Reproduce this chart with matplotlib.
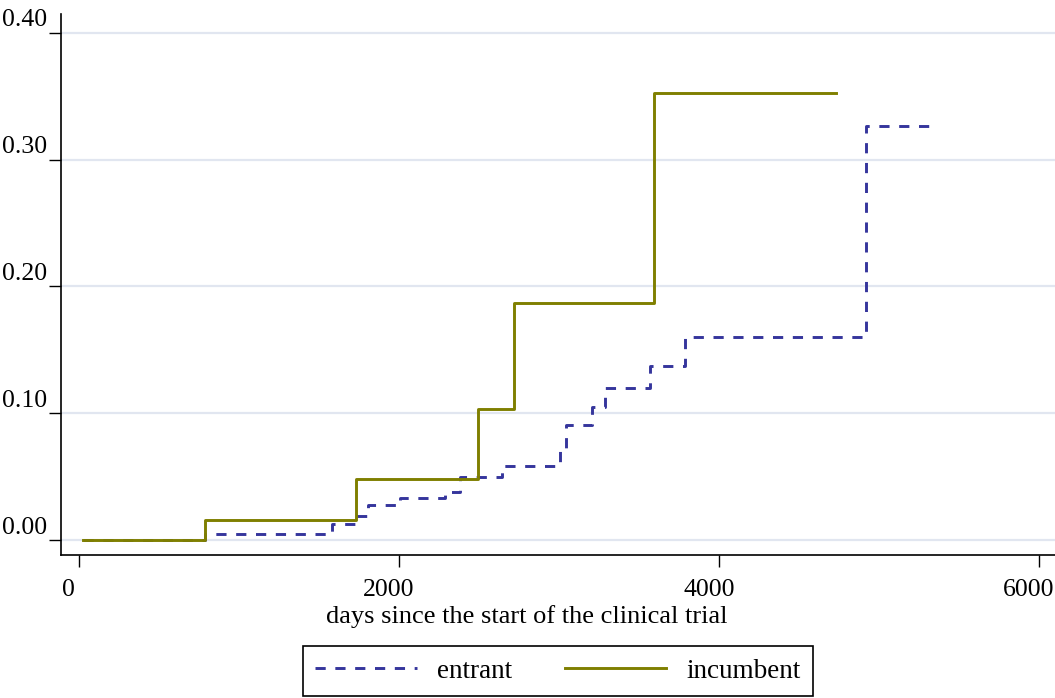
import matplotlib
matplotlib.use("Agg")
import matplotlib.pyplot as plt
import matplotlib.transforms as mtransforms

# cumulative incidence
inc_days = [25, 787, 1731, 2497, 2719, 3597, 4731]
inc_vals = [0, 0.016, 0.048, 0.103, 0.187, 0.353, 0.353]

ent_days = [25, 787, 1581, 1725, 1806, 2006, 2290, 2381, 2642, 3008, 3047,
            3204, 3287, 3569, 3787, 4917, 5339]
ent_vals = [0, 0.0047, 0.0124, 0.019, 0.0276, 0.0329, 0.038, 0.050, 0.0584,
            0.072, 0.0907, 0.105, 0.1196, 0.137, 0.160, 0.327, 0.327]

xticks = [0, 2000, 4000, 6000]
yticks = [0.0, 0.1, 0.2, 0.3, 0.4]
ytick_labels = ["0.00", "0.10", "0.20", "0.30", "0.40"]

plt.rcParams['font.family'] = ['Liberation Serif', 'DejaVu Serif']
fs = 18.5

fig = plt.figure(figsize=(10.55, 6.98), dpi=100)
ax = fig.add_axes([0.0578, 0.2049, 0.9422, 0.7751])

ent_color = '#35359c'
inc_color = '#7f7f00'

ax.step(ent_days, ent_vals, where='post', color=ent_color, lw=2.1,
        dashes=(3.5, 3.3), label='entrant')
ax.step(inc_days, inc_vals, where='post', color=inc_color, lw=2.1,
        label='incumbent')

ax.set_xlim(-112, 6100)
ax.set_ylim(-0.0118, 0.415)
ax.set_xticks(xticks)
ax.set_yticks(yticks)
ax.set_yticklabels(ytick_labels)

for y in yticks:
    ax.axhline(y, color='#e1e6f0', lw=1.6, zorder=0)

for s in ['top', 'right']:
    ax.spines[s].set_visible(False)
ax.spines['left'].set_linewidth(1.2)
ax.spines['bottom'].set_linewidth(1.2)
ax.tick_params(axis='both', length=8.3, width=1.0, labelsize=fs)
ax.tick_params(axis='y', pad=2)
ax.tick_params(axis='x', pad=9)

# shift y labels up, x labels left, like the reference
up = mtransforms.ScaledTranslation(0, 15 / 100, fig.dpi_scale_trans)
for lab in ax.get_yticklabels():
    lab.set_transform(lab.get_transform() + up)
left = mtransforms.ScaledTranslation(-10 / 100, 0, fig.dpi_scale_trans)
for lab in ax.get_xticklabels():
    lab.set_transform(lab.get_transform() + left)

ax.set_xlabel('days since the start of the clinical trial', fontsize=19)
ax.xaxis.set_label_coords(0.469, -0.093)

leg = fig.legend(loc='center', bbox_to_anchor=(558 / 1055, 1 - 671 / 698),
                 ncol=2, fancybox=False, edgecolor='black', framealpha=1,
                 handlelength=3.75, handletextpad=0.75, columnspacing=1.95,
                 borderpad=0.45, fontsize=19.5)
leg.get_frame().set_linewidth(1.2)

fig.savefig('out.png', dpi=100)
